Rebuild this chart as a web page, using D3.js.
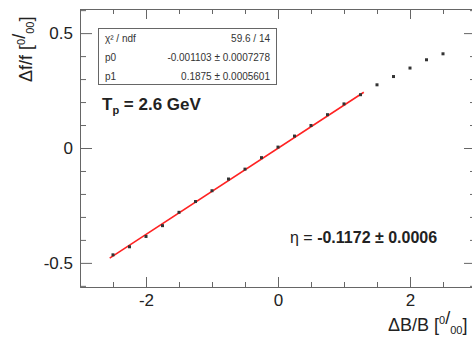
<!DOCTYPE html>
<html>
<head>
<meta charset="utf-8">
<script src="https://cdn.jsdelivr.net/npm/d3@7"></script>
<style>
  body { margin: 0; background: #fff; }
  svg { display: block; font-family: "Liberation Sans", Arial, sans-serif; }
</style>
</head>
<body>
<div id="app"></div>
<script>
// measured points (dB/B in per mille, df/f in per mille)
const xValues = [-2.5, -2.25, -2.0, -1.75, -1.5, -1.25, -1.0, -0.75, -0.5, -0.25, 0, 0.25, 0.5, 0.75, 1.0, 1.25, 1.5, 1.75, 2.0, 2.25, 2.5];
const yValues = [-0.465, -0.43, -0.385, -0.338, -0.28, -0.233, -0.186, -0.135, -0.092, -0.042, 0.004, 0.052, 0.098, 0.145, 0.192, 0.232, 0.275, 0.311, 0.348, 0.384, 0.41];

// fit result
const fitP0 = -0.001103;
const fitP1 = 0.1875;
const fitRange = [-2.55, 1.3];
const statRows = [
    ["\u03c7\u00b2 / ndf", "59.6 / 14"],
    ["p0", "-0.001103 \u00b1 0.0007278"],
    ["p1", "0.1875 \u00b1 0.0005601"]
];

// axis ticks
const xMajor = [-2, 0, 2];
const xMinor = [-3, -2.5, -1.5, -1, -0.5, 0.5, 1, 1.5, 2.5, 3];
const yMajor = [-0.5, 0, 0.5];
const yMinor = [-0.6, -0.4, -0.3, -0.2, -0.1, 0.1, 0.2, 0.3, 0.4, 0.6];

function plotChart() {
    const svgWidth = 472;
    const svgHeight = 338;
    const margin = { top: 9, left: 80, right: -4, bottom: 51 };
    const axisColor = "#666";
    const textColor = "#222";

    const svg = d3.select("#app").append("svg")
        .attr("width", svgWidth)
        .attr("height", svgHeight);

    const x = d3.scaleLinear()
        .domain([-3, 3])
        .range([margin.left, svgWidth - margin.right]);

    const y = d3.scaleLinear()
        .domain([-0.605, 0.605])
        .range([svgHeight - margin.bottom, margin.top]);

    const x0 = x.range()[0], x1 = x.range()[1];
    const y0 = y.range()[0], y1 = y.range()[1];

    // axes with inward ticks, ROOT style
    function addAxis(axisFn, scale, ticks, size, transform, labels) {
        const g = svg.append("g")
            .attr("transform", transform)
            .call(axisFn(scale)
                .tickValues(ticks)
                .tickSizeInner(-size)
                .tickSizeOuter(0)
                .tickPadding(labels ? 7 : 0)
                .tickFormat(labels ? (d => String(d)) : ""));
        g.select(".domain").attr("stroke", axisColor);
        g.selectAll(".tick line").attr("stroke", axisColor);
        g.selectAll(".tick text")
            .attr("fill", textColor)
            .style("font-size", "17px");
        return g;
    }

    addAxis(d3.axisBottom, x, xMajor, 10, `translate(0,${y0})`, true);
    addAxis(d3.axisBottom, x, xMinor, 5, `translate(0,${y0})`, false);
    addAxis(d3.axisTop, x, xMajor, 10, `translate(0,${y1})`, false);
    addAxis(d3.axisTop, x, xMinor, 5, `translate(0,${y1})`, false);
    addAxis(d3.axisLeft, y, yMajor, 12, `translate(${x0},0)`, true);
    addAxis(d3.axisLeft, y, yMinor, 6, `translate(${x0},0)`, false);
    addAxis(d3.axisRight, y, yMajor, 12, `translate(${x1},0)`, false);
    addAxis(d3.axisRight, y, yMinor, 6, `translate(${x1},0)`, false);

    // axis titles
    const xt = svg.append("text")
        .attr("x", 388)
        .attr("y", 331)
        .attr("fill", textColor)
        .style("font-size", "18px");
    xt.append("tspan").text("\u0394B/B [");
    xt.append("tspan").attr("dy", -7).style("font-size", "11px").text("0");
    xt.append("tspan").attr("dy", 0).text("/");
    xt.append("tspan").attr("dy", 10).style("font-size", "11px").text("00");
    xt.append("tspan").attr("dy", -3).text("]");

    const yt = svg.append("text")
        .attr("transform", "translate(32,82) rotate(-90)")
        .attr("fill", textColor)
        .style("font-size", "18px");
    yt.append("tspan").text("\u0394f/f [");
    yt.append("tspan").attr("dy", -7).style("font-size", "11px").text("0");
    yt.append("tspan").attr("dy", 0).text("/");
    yt.append("tspan").attr("dy", 9).style("font-size", "11px").text("00");
    yt.append("tspan").attr("dy", -2).text("]");

    // fit line
    svg.append("line")
        .attr("x1", x(fitRange[0]))
        .attr("y1", y(fitP0 + fitP1 * fitRange[0]))
        .attr("x2", x(fitRange[1]))
        .attr("y2", y(fitP0 + fitP1 * fitRange[1]))
        .attr("stroke", "#f22")
        .attr("stroke-width", 1.6);

    // data points
    svg.selectAll(".pt")
        .data(xValues)
        .enter()
            .append("rect")
            .classed("pt", true)
            .attr("x", d => x(d) - 1.5)
            .attr("y", (d, i) => y(yValues[i]) - 1.5)
            .attr("width", 3)
            .attr("height", 3)
            .attr("fill", "#333");

    // stats box
    svg.append("rect")
        .attr("x", 98.5)
        .attr("y", 28.5)
        .attr("width", 178)
        .attr("height", 56)
        .attr("fill", "#fff")
        .attr("stroke", axisColor);

    statRows.forEach(function(r, i) {
        const ry = 42 + i * 19;
        svg.append("text")
            .attr("x", 105)
            .attr("y", ry)
            .attr("fill", "#333")
            .style("font-size", "10px")
            .text(r[0]);
        svg.append("text")
            .attr("x", 270)
            .attr("y", ry)
            .attr("text-anchor", "end")
            .attr("fill", "#333")
            .style("font-size", "10px")
            .text(r[1]);
    });

    // annotations
    const tp = svg.append("text")
        .attr("x", 102)
        .attr("y", 110)
        .attr("fill", textColor)
        .style("font-size", "17px")
        .style("font-weight", "bold");
    tp.append("tspan").text("T");
    tp.append("tspan").attr("dy", 4).style("font-size", "11px").text("p");
    tp.append("tspan").attr("dy", -4).text(" = 2.6 GeV");

    const eta = svg.append("text")
        .attr("x", 290)
        .attr("y", 243)
        .attr("fill", textColor)
        .style("font-size", "16px");
    eta.append("tspan").text("\u03b7 = ");
    eta.append("tspan").style("font-weight", "bold").text("-0.1172 \u00b1 0.0006");
}

plotChart();
</script>
</body>
</html>
